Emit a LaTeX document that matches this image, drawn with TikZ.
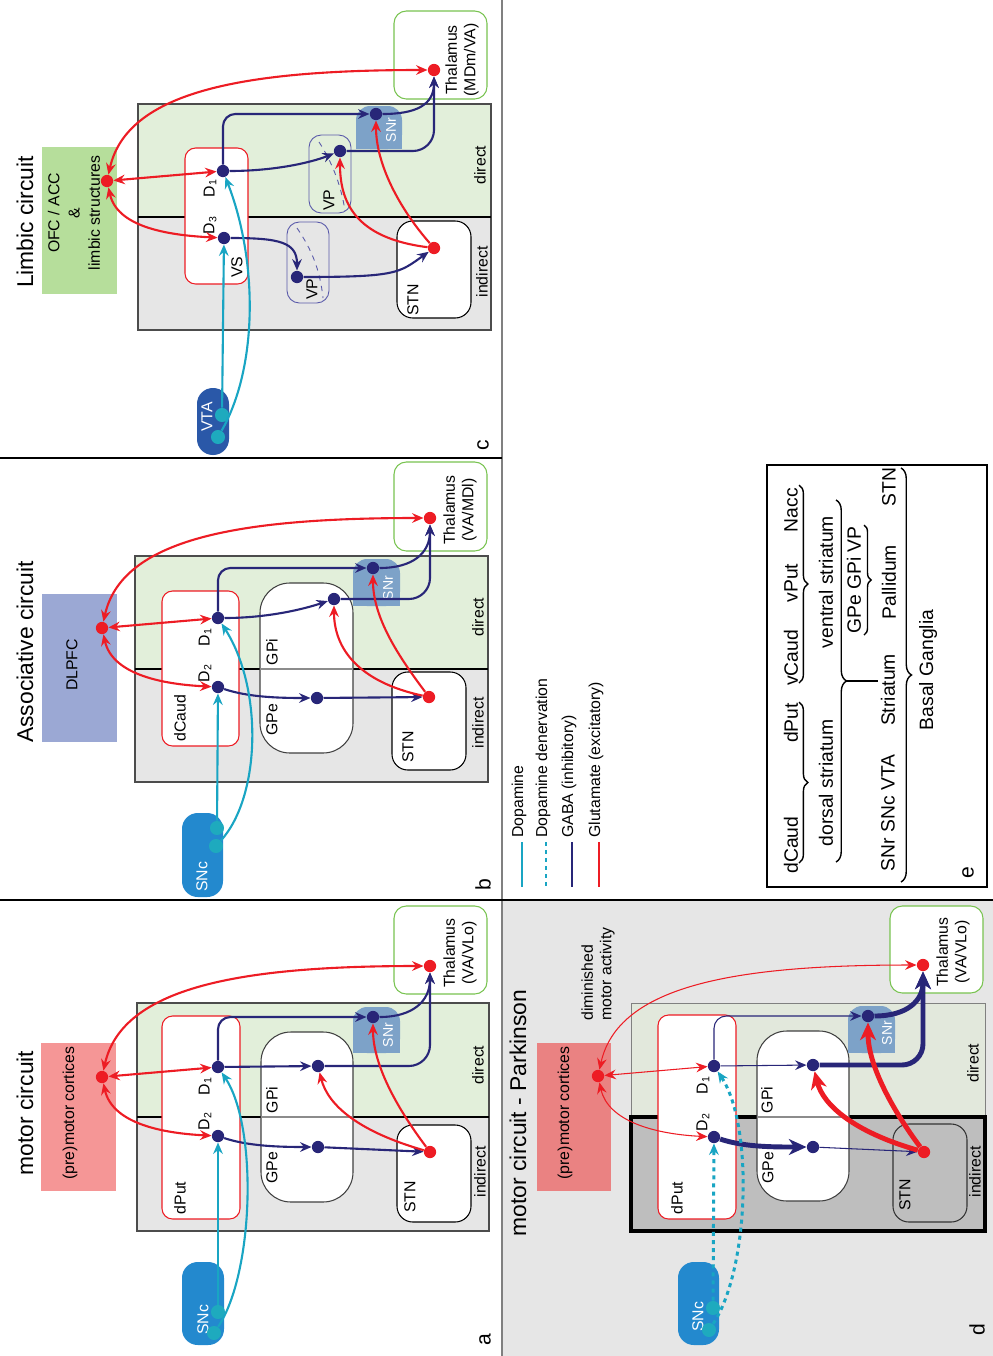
\documentclass[tikz,border=0pt]{standalone}
\usepackage{fontspec}
\setmainfont{Liberation Sans}
\usetikzlibrary{arrows.meta, decorations.pathreplacing}

\definecolor{glured}{RGB}{237,28,36}
\definecolor{gabablue}{RGB}{40,38,120}
\definecolor{dopateal}{RGB}{25,165,195}
\definecolor{dotteal}{RGB}{30,170,190}
\definecolor{directgreen}{RGB}{226,239,218}
\definecolor{indirectgrey}{RGB}{230,230,230}
\definecolor{snrblue}{RGB}{125,162,200}
\definecolor{sncblue}{RGB}{35,137,206}
\definecolor{vtablue}{RGB}{42,88,168}
\definecolor{motorpink}{RGB}{245,150,150}
\definecolor{dlpfcblue}{RGB}{155,168,212}
\definecolor{limbicgreen}{RGB}{182,222,155}
\definecolor{thalgreen}{RGB}{120,195,80}
\definecolor{vpblue}{RGB}{90,90,170}
\definecolor{pdgrey}{RGB}{230,230,230}
\definecolor{pddark}{RGB}{190,190,190}
\definecolor{pdgreen}{RGB}{226,232,220}
\definecolor{pdpink}{RGB}{234,130,130}

\begin{document}
\begin{tikzpicture}[
    x=0.02cm, y=-0.02cm,
    dot/.style={circle, inner sep=0pt, minimum size=7pt},
    bigdot/.style={circle, inner sep=0pt, minimum size=8pt, fill=dotteal},
    rot/.style={rotate=90, inner sep=0pt, font=\fontsize{9}{10.5}\selectfont},
    heading/.style={rot, font=\fontsize{13}{15}\selectfont},
    paneltag/.style={rot, font=\fontsize{12}{14}\selectfont},
    etext/.style={rot, font=\fontsize{11}{13}\selectfont},
    glu/.style={draw=glured, line width=1.2pt},
    gaba/.style={draw=gabablue, line width=1.2pt},
    dopa/.style={draw=dopateal, line width=1.2pt},
    sendto/.style={-{Stealth[length=6.5pt, width=5.5pt, inset=2.2pt]}},
    bothway/.style={{Stealth[length=6.5pt, width=5.5pt, inset=2.2pt]}-{Stealth[length=6.5pt, width=5.5pt, inset=2.2pt]}},
    sendbig/.style={-{Stealth[length=10pt, width=9pt, inset=3pt]}},
    nucleus/.style={fill=white, line width=0.6pt},
    brc/.style={line width=0.8pt, decorate, decoration={brace, amplitude=#1}}
  ]
  \useasboundingbox (0,0) rectangle (993,1356);

  % Parkinson background and separators
  \fill[pdgrey] (503,900) rectangle (993,1356);
  \draw[black!50, line width=1pt] (502,0) -- (502,1356);
  \draw[line width=0.6pt] (0,458) -- (502,458);
  \draw[line width=0.6pt] (0,900) -- (993,900);

  % ---------------- a: motor circuit
  \begin{scope}[name prefix=a-]
    \fill[directgreen] (137,1003) rectangle (489,1117);
    \fill[indirectgrey] (137,1117) rectangle (489,1231);
    \draw[black!70, line width=0.6pt] (137,1003) rectangle (489,1231);
    \draw[line width=1pt] (137,1117) -- (489,1117);
    \draw[nucleus, draw=glured, rounded corners=6pt] (162,1016) rectangle (240,1219);
    \draw[nucleus, draw=black!75, rounded corners=17pt] (261,1032) rectangle (353,1202);
    \draw[black!45, line width=0.6pt] (261,1117) -- (353,1117);
    \fill[snrblue, rounded corners=8pt] (353,1007) rectangle (400,1053);
    \fill[snrblue] (353,1030) rectangle (400,1053);
    \draw[nucleus, draw=black, rounded corners=9pt] (397,1125) rectangle (471,1222);
    \draw[nucleus, draw=thalgreen, rounded corners=7pt] (394,906) rectangle (487,994);
    \fill[motorpink] (41,1043) rectangle (116,1191);
    \fill[sncblue, rounded corners=9pt] (182,1262) rectangle (224,1345);

    \node[heading] (title) at (25,1113) {motor circuit};
    \node[rot] (ctxtext) at (70,1113) {(pre)motor cortices};
    \node[rot] (puttext) at (180,1198) {dPut};
    \node[rot] (gpitext) at (272,1100) {GPi};
    \node[rot] (gpetext) at (272,1168) {GPe};
    \node[rot, white, font=\fontsize{8}{9}\selectfont] (snrtext) at (388,1035) {SNr};
    \node[rot] (stntext) at (410,1197) {STN};
    \node[rot, align=center] (thaltext) at (460,953) {Thalamus\\(VA/VLo)};
    \node[rot, white] (snctext) at (203,1320) {SNc};
    \node[rot] (dirtext) at (478,1065) {direct};
    \node[rot] (indtext) at (480,1172) {indirect};
    \node[rot] (d1text) at (205,1086) {D\textsubscript{1}};
    \node[rot] (d2text) at (205,1121) {D\textsubscript{2}};
    \node[paneltag] (tag) at (485,1340) {a};

    \node[dot, fill=glured] (ctx) at (102,1077) {};
    \node[dot, fill=gabablue] (d1) at (218,1067) {};
    \node[dot, fill=gabablue] (d2) at (218,1136) {};
    \node[dot, fill=gabablue] (gpi) at (318,1066) {};
    \node[dot, fill=gabablue] (gpe) at (318,1147) {};
    \node[dot, fill=gabablue] (snr) at (373,1017) {};
    \node[dot, fill=glured] (stn) at (430,1152) {};
    \node[dot, fill=glured] (thal) at (430,966) {};
    \node[bigdot] (snc1) at (218,1312) {};
    \node[bigdot] (snc2) at (214,1333) {};

    \draw[glu, bothway] (ctx) -- (d1);
    \draw[glu, bothway] (ctx) .. controls +(10,45) and +(-60,-3) .. (d2);
    \draw[glu, bothway] (ctx) .. controls +(20,-90) and +(-190,0) .. (thal);
    \draw[gaba, sendto] (d1) -- (gpi);
    \draw[gaba, sendto, rounded corners=7pt] (d1) |- (snr);
    \draw[gaba, sendto] (d2) .. controls +(30,10) and +(-40,0) .. (gpe);
    \draw[gaba, sendto] (gpe) -- (stn);
    \draw[gaba, sendto, rounded corners=12pt] (gpi) -| (thal);
    \draw[gaba, sendto] (snr) .. controls +(40,0) and +(0,35) .. (thal);
    \draw[glu, sendto] (stn) .. controls +(-70,-20) and +(10,40) .. (gpi);
    \draw[glu, sendto] (stn) .. controls +(-30,-40) and +(0,50) .. (snr);
    \draw[dopa, sendto] (snc1) -- (d2);
    \draw[dopa, sendto] (snc2) .. controls +(40,-60) and +(40,60) .. (d1);
  \end{scope}

  % ---------------- b: associative circuit
  \begin{scope}[name prefix=b-]
    \fill[directgreen] (135,556) rectangle (488,669);
    \fill[indirectgrey] (135,669) rectangle (488,782);
    \draw[black!70, line width=0.6pt] (135,556) rectangle (488,782);
    \draw[line width=1pt] (135,669) -- (488,669);
    \draw[nucleus, draw=glured, rounded corners=6pt] (162,591) rectangle (239,746);
    \draw[nucleus, draw=black!75, rounded corners=17pt] (260,583) rectangle (353,753);
    \draw[black!45, line width=0.6pt] (260,669) -- (353,669);
    \fill[snrblue, rounded corners=8pt] (353,559) rectangle (400,606);
    \fill[snrblue] (353,582) rectangle (400,606);
    \draw[nucleus, draw=black, rounded corners=9pt] (392,672) rectangle (466,770);
    \draw[nucleus, draw=thalgreen, rounded corners=7pt] (394,462) rectangle (487,551);
    \fill[dlpfcblue] (42,594) rectangle (117,742);
    \fill[sncblue, rounded corners=9pt] (182,813) rectangle (223,897);

    \node[heading] (title) at (25,652) {Associative circuit};
    \node[rot] (ctxtext) at (72,665) {DLPFC};
    \node[rot] (caudtext) at (180,718) {dCaud};
    \node[rot] (gpitext) at (272,652) {GPi};
    \node[rot] (gpetext) at (272,720) {GPe};
    \node[rot, white, font=\fontsize{8}{9}\selectfont] (snrtext) at (388,588) {SNr};
    \node[rot] (stntext) at (408,747) {STN};
    \node[rot, align=center] (thaltext) at (460,510) {Thalamus\\(VA/MDl)};
    \node[rot, white] (snctext) at (202,877) {SNc};
    \node[rot] (dirtext) at (478,617) {direct};
    \node[rot] (indtext) at (478,723) {indirect};
    \node[rot] (d1text) at (205,637) {D\textsubscript{1}};
    \node[rot] (d2text) at (205,673) {D\textsubscript{2}};
    \node[paneltag] (tag) at (483,885) {b};

    \node[dot, fill=glured] (ctx) at (102,628) {};
    \node[dot, fill=gabablue] (d1) at (218,618) {};
    \node[dot, fill=gabablue] (d2) at (218,687) {};
    \node[dot, fill=gabablue] (gpi) at (334,599) {};
    \node[dot, fill=gabablue] (gpe) at (317,698) {};
    \node[dot, fill=gabablue] (snr) at (373,568) {};
    \node[dot, fill=glured] (stn) at (429,697) {};
    \node[dot, fill=glured] (thal) at (430,518) {};
    \node[bigdot] (snc1) at (217,828) {};
    \node[bigdot] (snc2) at (216,846) {};

    \draw[glu, bothway] (ctx) -- (d1);
    \draw[glu, bothway] (ctx) .. controls +(10,45) and +(-60,-3) .. (d2);
    \draw[glu, bothway] (ctx) .. controls +(20,-90) and +(-190,0) .. (thal);
    \draw[gaba, sendto] (d1) .. controls +(50,0) and +(-30,10) .. (gpi);
    \draw[gaba, sendto, rounded corners=7pt] (d1) |- (snr);
    \draw[gaba, sendto] (d2) .. controls +(30,10) and +(-40,0) .. (gpe);
    \draw[gaba, sendto] (gpe) -- (stn);
    \draw[gaba, sendto, rounded corners=12pt] (gpi) -| (thal);
    \draw[gaba, sendto] (snr) .. controls +(40,0) and +(0,35) .. (thal);
    \draw[glu, sendto] (stn) .. controls +(-70,-15) and +(0,50) .. (gpi);
    \draw[glu, sendto] (stn) .. controls +(-30,-40) and +(0,50) .. (snr);
    \draw[dopa, sendto] (snc1) -- (d2);
    \draw[dopa, sendto] (snc2) .. controls +(45,-50) and +(45,70) .. (d1);
  \end{scope}

  % ---------------- c: limbic circuit
  \begin{scope}[name prefix=c-]
    \fill[directgreen] (138,104) rectangle (491,217);
    \fill[indirectgrey] (138,217) rectangle (491,330);
    \draw[black!70, line width=0.6pt] (138,104) rectangle (491,330);
    \draw[line width=1pt] (138,217) -- (491,217);
    \draw[nucleus, draw=glured, rounded corners=6pt] (185,148) rectangle (248,284);
    \draw[vpblue, line width=0.5pt, rounded corners=7pt] (309,135) rectangle (351,213);
    \draw[vpblue, line width=0.5pt, dashed] (319,142) .. controls (334,165) and (342,190) .. (345,211);
    \draw[vpblue, line width=0.5pt, rounded corners=7pt] (287,222) rectangle (329,303);
    \draw[vpblue, line width=0.5pt, dashed] (297,228) .. controls (312,250) and (320,270) .. (323,298);
    \fill[snrblue, rounded corners=8pt] (356,106) rectangle (402,149);
    \fill[snrblue] (356,128) rectangle (402,149);
    \draw[nucleus, draw=black, rounded corners=9pt] (397,221) rectangle (471,318);
    \draw[nucleus, draw=thalgreen, rounded corners=7pt] (394,11) rectangle (487,99);
    \fill[limbicgreen] (42,147) rectangle (117,294);
    \fill[vtablue, rounded corners=9pt] (197,388) rectangle (229,455);

    \node[heading] (title) at (25,222) {Limbic circuit};
    \node[rot, align=center, font=\fontsize{9}{11.5}\selectfont] (ctxtext) at (74,213) {OFC / ACC\\\&\\limbic structures};
    \node[rot] (vstext) at (237,267) {VS};
    \node[rot] (vputext) at (329,200) {VP};
    \node[rot] (vpltext) at (312,289) {VP};
    \node[rot, white, font=\fontsize{8}{9}\selectfont] (snrtext) at (391,130) {SNr};
    \node[rot] (stntext) at (413,300) {STN};
    \node[rot, align=center] (thaltext) at (462,60) {Thalamus\\(MDm/VA)};
    \node[rot, white] (vtatext) at (207,417) {VTA};
    \node[rot] (dirtext) at (480,165) {direct};
    \node[rot] (indtext) at (482,272) {indirect};
    \node[rot] (d1text) at (210,188) {D\textsubscript{1}};
    \node[rot] (d3text) at (210,225) {D\textsubscript{3}};
    \node[paneltag] (tag) at (483,445) {c};

    \node[dot, fill=glured] (ctx) at (107,181) {};
    \node[dot, fill=gabablue] (d1) at (223,171) {};
    \node[dot, fill=gabablue] (d3) at (224,238) {};
    \node[dot, fill=gabablue] (vpu) at (340,151) {};
    \node[dot, fill=gabablue] (vpl) at (297,277) {};
    \node[dot, fill=gabablue] (snr) at (376,114) {};
    \node[dot, fill=glured] (stn) at (434,248) {};
    \node[dot, fill=glured] (thal) at (434,70) {};
    \node[bigdot] (vta1) at (222,415) {};
    \node[bigdot] (vta2) at (218,437) {};

    \draw[glu, bothway] (ctx) -- (d1);
    \draw[glu, bothway] (ctx) .. controls +(10,45) and +(-60,-3) .. (d3);
    \draw[glu, bothway] (ctx) .. controls +(20,-90) and +(-190,0) .. (thal);
    \draw[gaba, sendto] (d1) .. controls +(50,0) and +(-30,12) .. (vpu);
    \draw[gaba, sendto, rounded corners=7pt] (d1) |- (snr);
    \draw[gaba, sendto] (d3) .. controls +(55,0) and +(0,-35) .. (vpl);
    \draw[gaba, sendto] (vpl) .. controls +(100,0) and +(-35,25) .. (stn);
    \draw[gaba, sendto, rounded corners=12pt] (vpu) -| (thal);
    \draw[gaba, sendto] (snr) .. controls +(40,0) and +(0,35) .. (thal);
    \draw[glu, sendto] (stn) .. controls +(-80,-10) and +(0,50) .. (vpu);
    \draw[glu, sendto] (stn) .. controls +(-35,-40) and +(0,50) .. (snr);
    \draw[dopa, sendto] (vta1) -- (d3);
    \draw[dopa, sendto] (vta2) .. controls +(40,-70) and +(35,90) .. (d1);
  \end{scope}

  % ---------------- d: motor circuit in Parkinson
  \begin{scope}[name prefix=d-]
    \fill[pdgreen] (631,1003) rectangle (985,1117);
    \draw[black!50, line width=0.5pt] (631,1003) rectangle (985,1117);
    \fill[pddark] (631,1117) rectangle (985,1231);
    \draw[line width=1.8pt] (631,1117) rectangle (985,1231);
    \draw[nucleus, draw=glured, rounded corners=6pt] (658,1015) rectangle (736,1219);
    \draw[nucleus, draw=black!75, rounded corners=17pt] (757,1031) rectangle (849,1201);
    \draw[black!45, line width=0.6pt] (757,1117) -- (849,1117);
    \fill[snrblue, rounded corners=8pt] (848,1006) rectangle (895,1053);
    \fill[snrblue] (848,1030) rectangle (895,1053);
    \draw[black!80, line width=0.6pt, rounded corners=9pt] (893,1124) rectangle (967,1222);
    \draw[nucleus, draw=thalgreen, rounded corners=7pt] (890,906) rectangle (983,993);
    \fill[pdpink] (537,1043) rectangle (611,1191);
    \fill[sncblue, rounded corners=9pt] (678,1262) rectangle (719,1345);

    \node[heading] (title) at (518,1113) {motor circuit - Parkinson};
    \node[rot, align=left] (dimtext) at (598,974) {diminished\\motor activity};
    \node[rot] (ctxtext) at (565,1113) {(pre)motor cortices};
    \node[rot] (puttext) at (677,1198) {dPut};
    \node[rot] (gpitext) at (767,1100) {GPi};
    \node[rot] (gpetext) at (768,1168) {GPe};
    \node[rot, white, font=\fontsize{8}{9}\selectfont] (snrtext) at (887,1033) {SNr};
    \node[rot] (stntext) at (905,1195) {STN};
    \node[rot, align=center] (thaltext) at (953,952) {Thalamus\\(VA/VLo)};
    \node[rot, white] (snctext) at (698,1317) {SNc};
    \node[rot] (dirtext) at (973,1063) {direct};
    \node[rot] (indtext) at (975,1172) {indirect};
    \node[rot] (d1text) at (703,1085) {D\textsubscript{1}};
    \node[rot] (d2text) at (703,1122) {D\textsubscript{2}};
    \node[paneltag] (tag) at (977,1330) {d};

    \node[dot, fill=glured] (ctx) at (598,1076) {};
    \node[dot, fill=gabablue] (d1) at (714,1066) {};
    \node[dot, fill=gabablue] (d2) at (714,1137) {};
    \node[dot, fill=gabablue] (gpi) at (813,1065) {};
    \node[dot, fill=gabablue] (gpe) at (813,1147) {};
    \node[dot, fill=gabablue] (snr) at (868,1016) {};
    \node[dot, fill=glured] (stn) at (924,1152) {};
    \node[dot, fill=glured] (thal) at (923,965) {};
    \node[bigdot] (snc1) at (713,1308) {};
    \node[bigdot] (snc2) at (709,1330) {};

    \draw[glu, line width=0.6pt, bothway] (ctx) -- (d1);
    \draw[glu, line width=0.6pt, bothway] (ctx) .. controls +(10,45) and +(-60,-3) .. (d2);
    \draw[glu, line width=0.6pt, bothway] (ctx) .. controls +(20,-90) and +(-190,0) .. (thal);
    \draw[gaba, line width=0.6pt, sendto] (d1) -- (gpi);
    \draw[gaba, line width=0.6pt, sendto, rounded corners=7pt] (d1) |- (snr);
    \draw[gaba, line width=2.8pt, sendbig] (d2) .. controls +(30,10) and +(-40,0) .. (gpe);
    \draw[gaba, line width=0.6pt, sendto] (gpe) -- (stn);
    \draw[gaba, line width=2.8pt, sendbig, rounded corners=12pt] (gpi) -| (thal);
    \draw[gaba, line width=2.8pt, sendbig] (snr) .. controls +(40,0) and +(0,35) .. (thal);
    \draw[glu, line width=2.8pt, sendbig] (stn) .. controls +(-70,-20) and +(10,40) .. (gpi);
    \draw[glu, line width=2.8pt, sendbig] (stn) .. controls +(-30,-40) and +(0,50) .. (snr);
    \draw[dopa, line width=1.7pt, dash pattern=on 2.3pt off 2.3pt, sendto] (snc1) -- (d2);
    \draw[dopa, line width=1.7pt, dash pattern=on 2.3pt off 2.3pt, sendto] (snc2) .. controls +(40,-60) and +(40,60) .. (d1);
  \end{scope}

  % ---------------- legend
  \draw[dopa] (522,842) -- (522,887);
  \draw[dopa, line width=1.7pt, dash pattern=on 2.3pt off 2.3pt] (546,842) -- (546,887);
  \draw[gaba] (572,842) -- (572,887);
  \draw[glu] (599,842) -- (599,887);
  \node[rot, anchor=west] (legdopa) at (519,838) {Dopamine};
  \node[rot, anchor=west] (legden) at (543,838) {Dopamine denervation};
  \node[rot, anchor=west] (leggaba) at (569,838) {GABA (inhibitory)};
  \node[rot, anchor=west] (legglu) at (596,838) {Glutamate (excitatory)};

  % ---------------- e: nomenclature
  \draw[line width=1.2pt] (767,465) rectangle (987,887);
  \node[etext] (dcaud) at (791,845) {dCaud};
  \node[etext] (dput) at (791,723) {dPut};
  \node[etext] (vcaud) at (791,658) {vCaud};
  \node[etext] (vput) at (791,583) {vPut};
  \node[etext] (nacc) at (791,510) {Nacc};
  \draw[brc=5pt] (799,702) -- (799,863);
  \draw[brc=5pt] (799,485) -- (799,683);
  \node[etext] (dorsal) at (826,783) {dorsal striatum};
  \node[etext] (ventral) at (826,582) {ventral striatum};
  \draw[brc=6pt] (836,500) -- (836,862);
  \draw[line width=0.8pt] (846,681) -- (878,681);
  \node[etext] (gpnames) at (854,580) {GPe GPi VP};
  \draw[brc=4pt] (864,525) -- (864,635);
  \node[etext] (striatum) at (888,690) {Striatum};
  \node[etext] (pallidum) at (889,582) {Pallidum};
  \node[etext] (nigra) at (888,813) {SNr SNc VTA};
  \node[etext] (stn) at (889,487) {STN};
  \draw[brc=6pt] (901,468) -- (901,882);
  \node[etext] (bg) at (928,670) {Basal Ganglia};
  \node[paneltag] (etag) at (968,873) {e};
\end{tikzpicture}
\end{document}
